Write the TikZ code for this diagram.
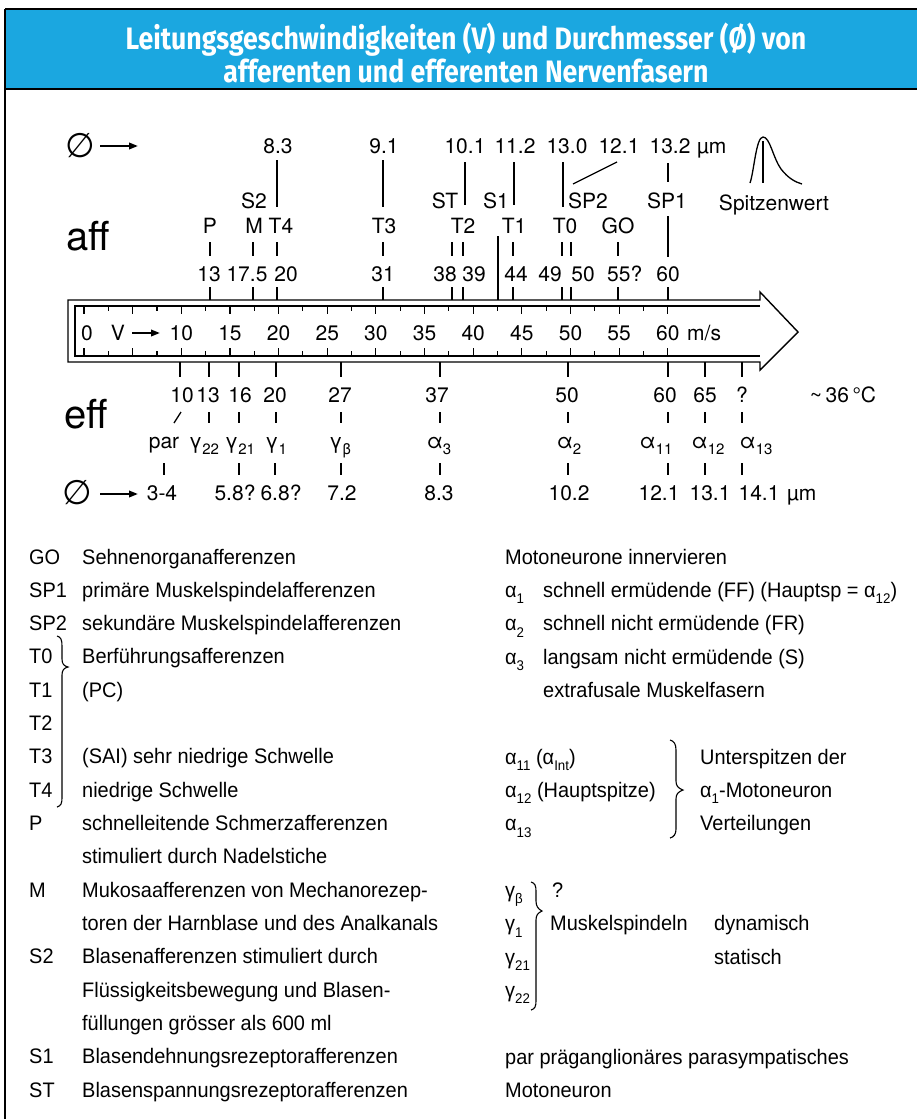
\documentclass[tikz,border=0pt]{standalone}
\usepackage{fontspec}
\setmainfont{TeX Gyre Heros}
\newfontfamily\legfont[FakeStretch=0.95]{Liberation Sans}
\newfontfamily\titlefont[FakeStretch=0.86]{Fira Sans}
\newfontfamily\symfont{DejaVu Sans}
\usetikzlibrary{arrows.meta}
\definecolor{hdrblue}{RGB}{27,167,224}
\newcommand{\dsb}[1]{\raisebox{-0.3em}{\fontsize{15}{15}\selectfont #1}}
\newcommand{\lsb}[1]{\raisebox{-0.3em}{\fontsize{14}{14}\selectfont #1}}
\tikzset{
  lab/.style={anchor=base, inner sep=0pt, font=\fontsize{21}{21}\selectfont},
  labw/.style={anchor=base west, inner sep=0pt, font=\fontsize{21}{21}\selectfont},
  leg/.style={anchor=base west, inner sep=0pt, font=\legfont\fontsize{21}{21}\selectfont},
  biglab/.style={anchor=base west, inner sep=0pt, font=\fontsize{40}{40}\selectfont},
  diam/.style={anchor=base west, inner sep=0pt, font=\symfont\fontsize{34}{34}\selectfont},
  ttl/.style={anchor=base, inner sep=0pt, text=white, font=\titlefont\bfseries\fontsize{31}{31}\selectfont},
  tk/.style={line width=1.1pt},
  bar/.style={line width=1.3pt},
  sarrow/.style={line width=2pt, -{Triangle[length=9pt,width=6.5pt]}},
  outline/.style={line width=1.4pt, line join=miter},
  brace/.style={line width=1.1pt}
}
\begin{document}
\begin{tikzpicture}[x=1pt,y=-1pt]
\useasboundingbox (0,0) rectangle (917,1119);
% frame and header
\fill[hdrblue] (5,9) rectangle (917,88);
\draw[line width=1.5pt] (5,9) -- (917,9);
\draw[line width=2pt] (5,89) -- (917,89);
\draw[line width=1.5pt] (5,9) -- (5,1119);
\node[ttl] (t1) at (466,49) {Leitungsgeschwindigkeiten (V) und Durchmesser (Ø) von};
\node[ttl] (t2) at (466,82) {afferenten und efferenten Nervenfasern};

% ---------- big arrow ----------
\draw[outline] (68,300) -- (760,300) -- (760,292) -- (798,332) -- (760,370) -- (760,362) -- (68,362) -- cycle;
\draw[outline] (760,306) -- (75,306) -- (75,356) -- (760,356);
\foreach \i in {0,...,24}{
  \pgfmathsetmacro{\xx}{84+9.73*2.5*\i}
  \pgfmathsetmacro{\ll}{ifthenelse(mod(\i,2)==0,8,5)}
  \draw[tk] (\xx,306) -- (\xx,306+\ll);
  \draw[tk] (\xx,356) -- (\xx,356-\ll);
}
\node[lab] (v0) at (87,340) {0};
\node[lab] (vV) at (118,340) {V};
\coordinate (va1) at (132,333);
\coordinate (va2) at (160,333);
\draw[sarrow] (va1) -- (va2);
\foreach \v in {10,15,...,60}{
  \pgfmathsetmacro{\xx}{84+9.73*\v}
  \node[lab] at (\xx,340) {\v};
}
\node[labw] (ms) at (687,340) {m/s};

% ---------- afferent (top) ----------
\node[diam] (d1) at (65,157) {∅};
\coordinate (da1) at (100,146);
\coordinate (da2) at (138,146);
\draw[sarrow] (da1) -- (da2);
\node[biglab] (aff) at (66,250) {aff};

% diameters row
\node[lab] at (278,153) {8.3};
\node[lab] at (384,153) {9.1};
\node[lab] at (465,153) {10.1};
\node[lab] at (515,153) {11.2};
\node[lab] at (567,153) {13.0};
\node[lab] at (619,153) {12.1};
\node[lab] at (670,153) {13.2};
\node[labw] at (697,153) {µm};
% second label row
\node[lab] at (254,208) {S2};
\node[lab] at (445,208) {ST};
\node[lab] at (496,208) {S1};
\node[lab] at (588,208) {SP2};
\node[lab] at (667,208) {SP1};
\node[lab] at (774,210) {Spitzenwert};
% third label row
\node[lab] at (210,233) {P};
\node[lab] at (254,233) {M};
\node[lab] at (281,233) {T4};
\node[lab] at (384,233) {T3};
\node[lab] at (463,233) {T2};
\node[lab] at (514,233) {T1};
\node[lab] at (565,233) {T0};
\node[lab] at (618,233) {GO};
% numbers row
\node[lab] at (209,281) {13};
\node[lab] at (247,281) {17.5};
\node[lab] at (286,281) {20};
\node[lab] at (383,281) {31};
\node[lab] at (445,281) {38};
\node[lab] at (474,281) {39};
\node[lab] at (516,281) {44};
\node[lab] at (550,281) {49};
\node[lab] at (583,281) {50};
\node[labw] at (607,281) {55?};
\node[lab] at (668,281) {60};
% lines: diameter to labels
\draw[bar] (277,160) -- (277,207);
\draw[bar] (383,160) -- (383,207);
\draw[bar] (465,162) -- (465,205);
\draw[bar] (514,162) -- (514,205);
\draw[bar] (563,162) -- (563,207);
\draw[bar] (573,184) -- (617,162);
\draw[bar] (668,163) -- (668,182);
\draw[bar] (668,216) -- (668,257);
\draw[bar] (498,236) -- (498,300);
% lines: labels to numbers
\foreach \xx in {210,253,277,383,452,463,513,562,571,618}{
  \draw[bar] (\xx,242) -- (\xx,256);
}
% lines: numbers to arrow
\foreach \xx in {210,253,277,383,452,463,513,562,571,618,668}{
  \draw[bar] (\xx,287) -- (\xx,300);
}
% peak sketch
\draw[bar] (750,183) .. controls (754,172) and (756,137) .. (763,137)
  .. controls (770,137) and (773,158) .. (781,169)
  .. controls (788,178) and (795,182) .. (802,184);
\draw[bar] (763,141) -- (763,183);

% ---------- efferent (bottom) ----------
\foreach \xx in {180,209,239,276,341,440,568,668,705,742}{
  \draw[bar] (\xx,362) -- (\xx,377);
}
\node[lab] at (182,402) {10};
\node[lab] at (208,402) {13};
\node[lab] at (240,402) {16};
\node[lab] at (275,402) {20};
\node[lab] at (340,402) {27};
\node[lab] at (437,402) {37};
\node[lab] at (567,402) {50};
\node[lab] at (665,402) {60};
\node[lab] at (705,402) {65};
\node[lab] at (742,402) {?};
\node[lab] at (843,402) {\textasciitilde\,36\,°C};
\node[biglab] (eff) at (64,428) {eff};
% row 2 ticks
\draw[bar] (174,423) -- (181,412);
\foreach \xx in {209,239,276,341,440,568,668,705,742}{
  \draw[bar] (\xx,412) -- (\xx,423);
}
% row 3 labels
\node[lab] at (164,448) {par};
\node[lab] at (204,448) {γ\dsb{22}};
\node[lab] at (240,448) {γ\dsb{21}};
\node[lab] at (276,448) {γ\dsb{1}};
\node[lab] at (340,448) {γ\dsb{β}};
\node[lab] at (439,448) {α\dsb{3}};
\node[lab] at (569,448) {α\dsb{2}};
\node[lab] at (656,448) {α\dsb{11}};
\node[lab] at (708,448) {α\dsb{12}};
\node[lab] at (756,448) {α\dsb{13}};
% row 4 ticks
\foreach \xx in {164,239,275,341,440,568,668,705,742}{
  \draw[bar] (\xx,463) -- (\xx,475);
}
% row 5 diameters
\node[diam] (d2) at (62,504) {∅};
\coordinate (db1) at (100,494);
\coordinate (db2) at (138,494);
\draw[sarrow] (db1) -- (db2);
\node[lab] at (162,500) {3-4};
\node[lab] at (235,500) {5.8?};
\node[lab] at (281,500) {6.8?};
\node[lab] at (342,500) {7.2};
\node[lab] at (439,500) {8.3};
\node[lab] at (569,500) {10.2};
\node[lab] at (659,500) {12.1};
\node[lab] at (710,500) {13.1};
\node[lab] at (759,500) {14.1};
\node[labw] at (787,500) {µm};

% ---------- legend left ----------
\foreach \a/\t [count=\i from 0] in {GO/Sehnenorganafferenzen, SP1/primäre Muskelspindelafferenzen, SP2/sekundäre Muskelspindelafferenzen, T0/Berführungsafferenzen, T1/(PC), T2/, T3/(SAI) sehr niedrige Schwelle, T4/niedrige Schwelle, P/schnelleitende Schmerzafferenzen, /stimuliert durch Nadelstiche, M/Mukosaafferenzen von Mechanorezep-, /toren der Harnblase und des Analkanals, S2/Blasenafferenzen stimuliert durch, /Flüssigkeitsbewegung und Blasen-, /füllungen grösser als 600 ml, S1/Blasendehnungsrezeptorafferenzen, ST/Blasenspannungsrezeptorafferenzen}{
  \pgfmathsetmacro{\yy}{564+33.33*\i}
  \node[leg] at (29,\yy) {\a};
  \node[leg] at (82,\yy) {\t};
}
\draw[brace] (57,636) .. controls (61,637) and (62,640) .. (62,646) -- (62,659)
  .. controls (62,664) and (64,666) .. (68,667)
  .. controls (64,668) and (62,670) .. (62,675) -- (62,798)
  .. controls (62,803) and (61,806) .. (57,807);

% ---------- legend right ----------
\node[leg] at (505,564) {Motoneurone innervieren};
\node[leg] at (505,597.3) {α\lsb{1}};
\node[leg] at (543,597.3) {schnell ermüdende (FF) (Hauptsp = α\lsb{12})};
\node[leg] at (505,630.7) {α\lsb{2}};
\node[leg] at (543,630.7) {schnell nicht ermüdende (FR)};
\node[leg] at (505,664) {α\lsb{3}};
\node[leg] at (543,664) {langsam nicht ermüdende (S)};
\node[leg] at (543,697.3) {extrafusale Muskelfasern};
\node[leg] at (505,764) {α\lsb{11} (α\lsb{Int})};
\node[leg] at (505,797.3) {α\lsb{12} (Hauptspitze)};
\node[leg] at (505,830.7) {α\lsb{13}};
\node[leg] at (700,764) {Unterspitzen der};
\node[leg] at (700,797.3) {α\lsb{1}-Motoneuron};
\node[leg] at (700,830.7) {Verteilungen};
\draw[brace] (670,740) .. controls (674,741) and (676,744) .. (676,750) -- (676,781)
  .. controls (676,786) and (678,788) .. (683,790)
  .. controls (678,792) and (676,794) .. (676,799) -- (676,829)
  .. controls (676,834) and (674,837) .. (670,838);
\node[leg] at (505,897.3) {γ\lsb{β}};
\node[leg] at (552,897.3) {?};
\node[leg] at (505,930.7) {γ\lsb{1}};
\node[leg] at (550,930.7) {Muskelspindeln};
\node[leg] at (714,930.7) {dynamisch};
\node[leg] at (505,964) {γ\lsb{21}};
\node[leg] at (714,964) {statisch};
\node[leg] at (505,997.3) {γ\lsb{22}};
\draw[brace] (531,882) .. controls (535,883) and (536,886) .. (536,891) -- (536,901)
  .. controls (536,906) and (538,909) .. (542,911)
  .. controls (538,913) and (536,915) .. (536,920) -- (536,1001)
  .. controls (536,1006) and (535,1009) .. (531,1010);
\node[leg] at (505,1064) {par präganglionäres parasympatisches};
\node[leg] at (505,1097.3) {Motoneuron};
\end{tikzpicture}
\end{document}
